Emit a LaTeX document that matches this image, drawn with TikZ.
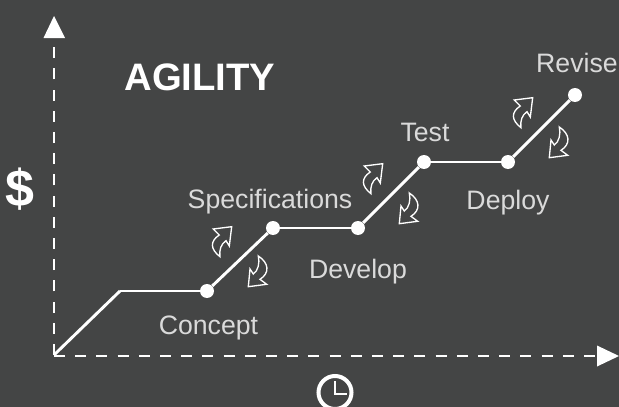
\documentclass[tikz,border=0pt]{standalone}
\usepackage{fontspec}
\setmainfont{Liberation Sans}[Ligatures=NoCommon]
\newfontfamily\boldfont{Liberation Sans Bold}
\definecolor{board}{HTML}{444545}
\tikzset{
	dot/.style={shape=circle,fill=white,inner sep=0pt,minimum size=14*0.75pt},
	stage/.style={text=white!80!board,font=\fontsize{20}{24}\selectfont,inner sep=0pt,anchor=base},
	line/.style={draw=white,line width=2.2pt},
	axis/.style={draw=white,line width=2.2pt,dash pattern=on 8.2pt off 7.7pt},
	tip/.style={fill=white,draw=none},
	loopline/.style={draw=white,line width=1pt,line join=miter},
	flowup/.pic={
		\path[loopline] (6.3,-62) -- (24.7,-64.3) -- (22.3,-45) -- (19,-50.3)
			.. controls (14,-47) and (12,-41) .. (13,-34.3)
			.. controls (3,-42) and (3,-50) .. (12.3,-56) -- cycle;
	},
	flowdown/.pic={
		\path[loopline] (41.3,-4.3) -- (43,-22) -- (46.3,-17)
			.. controls (51,-20) and (53,-28) .. (51.3,-35)
			.. controls (62,-28) and (63,-18) .. (53,-11.7)
			-- (59.7,-6.7) -- cycle;
	},
}
\begin{document}
\begin{tikzpicture}[x=0.75pt,y=-0.75pt]
	\fill[board] (0,0) rectangle (619,407);
	\useasboundingbox (0,0) rectangle (619,407);
	
	\coordinate (o) at (54,355);
	\coordinate (k) at (120,291);
	\coordinate (ytop) at (54,38);
	\coordinate (xend) at (597,356);
	
	\node[dot] (1) at (207,291) {};
	\node[dot] (2) at (273,228) {};
	\node[dot] (3) at (358,228) {};
	\node[dot] (4) at (424,162) {};
	\node[dot] (5) at (508,162) {};
	\node[dot] (6) at (575,95) {};
	
	\path [line]
	(o) edge (k)
	(k) edge (1)
	(1) edge (2)
	(2) edge (3)
	(3) edge (4)
	(4) edge (5)
	(5) edge (6);
	
	\draw[axis] (o) -- (ytop);
	\draw[axis] (o |- xend) -- (xend);
	\fill[tip] (43.5,38) -- (54,16) -- (65,38) -- cycle;
	\fill[tip] (597,345.5) -- (619,356) -- (597,366.5) -- cycle;
	
	\pic at (1) {flowup};
	\pic at (1) {flowdown};
	\pic at (3) {flowup};
	\pic at (3) {flowdown};
	\pic at (5) {flowup};
	\pic at (5) {flowdown};
	
	\node[stage] (concept) at (208.5,334) {Concept};
	\node[stage] (spec) at (270,208) {Specifications};
	\node[stage] (develop) at (358,278) {Develop};
	\node[stage] (test) at (425,141) {Test};
	\node[stage] (deploy) at (508,209) {Deploy};
	\node[stage] (revise) at (577,72) {Revise};
	
	\node[text=white,inner sep=0pt,font=\boldfont\fontsize{28.7}{34}\selectfont] (title) at (200,77) {AGILITY};
	\node[text=white,inner sep=0pt,font=\boldfont\fontsize{39}{44}\selectfont] (money) at (20,189) {\$};
	
	\node[shape=circle,draw=white,line width=3pt,minimum size=33*0.75pt,inner sep=0pt] (clock) at (335,392.5) {};
	\coordinate (hand) at (335,394);
	\draw[draw=white,line width=1.8pt] (335,381) -- (hand) -- (347,394);
\end{tikzpicture}
\end{document}
